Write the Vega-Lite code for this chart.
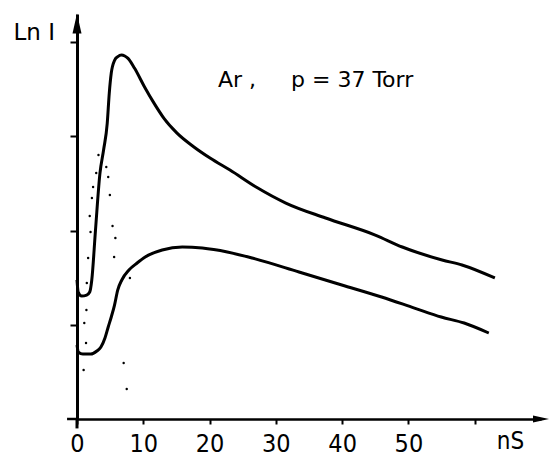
{
  "$schema": "https://vega.github.io/schema/vega-lite/v6.json",
  "width": 464,
  "height": 405,
  "autosize": {"type": "none"},
  "padding": {"left": 77, "top": 14, "right": 9, "bottom": 37},
  "background": "white",
  "config": {"view": {"stroke": null}},
  "datasets": {
    "curves": [
      {"curve": "upper", "t": 0.0, "v": 1.476},
      {"curve": "upper", "t": 0.18, "v": 1.348},
      {"curve": "upper", "t": 0.71, "v": 1.306},
      {"curve": "upper", "t": 1.46, "v": 1.316},
      {"curve": "upper", "t": 1.92, "v": 1.348},
      {"curve": "upper", "t": 2.23, "v": 1.476},
      {"curve": "upper", "t": 2.79, "v": 2.006},
      {"curve": "upper", "t": 3.46, "v": 2.608},
      {"curve": "upper", "t": 4.01, "v": 2.856},
      {"curve": "upper", "t": 4.56, "v": 3.139},
      {"curve": "upper", "t": 4.87, "v": 3.461},
      {"curve": "upper", "t": 5.17, "v": 3.673},
      {"curve": "upper", "t": 5.69, "v": 3.811},
      {"curve": "upper", "t": 6.16, "v": 3.848},
      {"curve": "upper", "t": 6.71, "v": 3.864},
      {"curve": "upper", "t": 7.21, "v": 3.854},
      {"curve": "upper", "t": 7.7, "v": 3.829},
      {"curve": "upper", "t": 8.69, "v": 3.723},
      {"curve": "upper", "t": 10.17, "v": 3.528},
      {"curve": "upper", "t": 11.64, "v": 3.351},
      {"curve": "upper", "t": 13.12, "v": 3.192},
      {"curve": "upper", "t": 15.09, "v": 3.035},
      {"curve": "upper", "t": 17.59, "v": 2.891},
      {"curve": "upper", "t": 20.13, "v": 2.768},
      {"curve": "upper", "t": 23.08, "v": 2.643},
      {"curve": "upper", "t": 27.02, "v": 2.463},
      {"curve": "upper", "t": 31.5, "v": 2.293},
      {"curve": "upper", "t": 37.5, "v": 2.134},
      {"curve": "upper", "t": 45.0, "v": 1.953},
      {"curve": "upper", "t": 49.07, "v": 1.826},
      {"curve": "upper", "t": 55.08, "v": 1.688},
      {"curve": "upper", "t": 58.08, "v": 1.635},
      {"curve": "upper", "t": 63.03, "v": 1.497},
      {"curve": "lower", "t": 0.0, "v": 0.786},
      {"curve": "lower", "t": 0.21, "v": 0.711},
      {"curve": "lower", "t": 0.88, "v": 0.69},
      {"curve": "lower", "t": 2.08, "v": 0.69},
      {"curve": "lower", "t": 3.0, "v": 0.722},
      {"curve": "lower", "t": 3.61, "v": 0.764},
      {"curve": "lower", "t": 4.22, "v": 0.86},
      {"curve": "lower", "t": 4.71, "v": 0.977},
      {"curve": "lower", "t": 5.17, "v": 1.083},
      {"curve": "lower", "t": 5.66, "v": 1.21},
      {"curve": "lower", "t": 6.14, "v": 1.369},
      {"curve": "lower", "t": 6.76, "v": 1.476},
      {"curve": "lower", "t": 7.84, "v": 1.582},
      {"curve": "lower", "t": 9.07, "v": 1.656},
      {"curve": "lower", "t": 10.29, "v": 1.72},
      {"curve": "lower", "t": 12.85, "v": 1.794},
      {"curve": "lower", "t": 15.88, "v": 1.826},
      {"curve": "lower", "t": 18.9, "v": 1.815},
      {"curve": "lower", "t": 22.67, "v": 1.773},
      {"curve": "lower", "t": 26.43, "v": 1.709},
      {"curve": "lower", "t": 33.49, "v": 1.561},
      {"curve": "lower", "t": 39.95, "v": 1.423},
      {"curve": "lower", "t": 45.95, "v": 1.295},
      {"curve": "lower", "t": 50.91, "v": 1.178},
      {"curve": "lower", "t": 54.95, "v": 1.083},
      {"curve": "lower", "t": 58.41, "v": 1.019},
      {"curve": "lower", "t": 62.12, "v": 0.913}
    ],
    "dots": [
      {"t": 3.24, "v": 2.803},
      {"t": 2.9, "v": 2.611},
      {"t": 2.43, "v": 2.463},
      {"t": 2.25, "v": 2.346},
      {"t": 1.92, "v": 2.155},
      {"t": 2.04, "v": 1.985},
      {"t": 1.68, "v": 1.709},
      {"t": 1.48, "v": 1.444},
      {"t": 1.42, "v": 1.157},
      {"t": 1.1, "v": 1.019},
      {"t": 1.36, "v": 0.807},
      {"t": 1.0, "v": 0.52},
      {"t": 4.42, "v": 2.675},
      {"t": 4.71, "v": 2.569},
      {"t": 4.96, "v": 2.378},
      {"t": 5.36, "v": 2.049},
      {"t": 5.79, "v": 1.921},
      {"t": 5.6, "v": 1.72},
      {"t": 7.98, "v": 1.497},
      {"t": 7.04, "v": 0.594},
      {"t": 7.5, "v": 0.318}
    ]
  },
  "layer": [
    {
      "data": {"name": "curves"},
      "mark": {"type": "line", "color": "black", "strokeWidth": 3, "interpolate": "monotone"},
      "encoding": {
        "x": {
          "field": "t", "type": "quantitative",
          "scale": {"domain": [0, 70], "nice": false, "zero": false},
          "axis": {
            "title": "nS", "titleX": 433, "titleY": 34, "titleAlign": "center", "titleBaseline": "bottom",
            "titleFont": "DejaVu Sans Condensed, DejaVu Sans", "titleFontSize": 24, "titleFontWeight": "normal", "titleColor": "black",
            "values": [0, 10, 20, 30, 40, 50, 60],
            "labelExpr": "datum.value >= 60 ? '' : datum.label",
            "labelFlush": false,
            "labelFont": "DejaVu Sans Condensed, DejaVu Sans", "labelFontSize": 25, "labelColor": "black", "labelPadding": 7,
            "tickSize": 5, "tickWidth": 2, "tickColor": "black",
            "domainColor": "black", "domainWidth": 2.5, "grid": false
          }
        },
        "y": {
          "field": "v", "type": "quantitative",
          "scale": {"domain": [0, 4.3], "nice": false, "zero": false},
          "axis": {
            "title": "Ln\u00a0I", "titleAngle": 0, "titleX": -64, "titleY": 25, "titleAlign": "left", "titleBaseline": "alphabetic",
            "titleFont": "DejaVu Sans", "titleFontSize": 23, "titleFontWeight": "normal", "titleColor": "black",
            "values": [1, 2, 3, 4], "labels": false,
            "tickSize": 7, "tickWidth": 2, "tickColor": "black",
            "domainColor": "black", "domainWidth": 3, "grid": false
          }
        },
        "detail": {"field": "curve", "type": "nominal"}
      }
    },
    {
      "data": {"name": "dots"},
      "mark": {"type": "point", "filled": true, "color": "black", "size": 6, "opacity": 1},
      "encoding": {
        "x": {"field": "t", "type": "quantitative"},
        "y": {"field": "v", "type": "quantitative"}
      }
    },
    {
      "data": {"values": [{"t": -1.5, "t2": 0, "v": 0}]},
      "mark": {"type": "rule", "color": "black", "strokeWidth": 2.5},
      "encoding": {
        "x": {"field": "t", "type": "quantitative"},
        "x2": {"field": "t2"},
        "y": {"field": "v", "type": "quantitative"}
      }
    },
    {
      "data": {"values": [{"t": 0, "v": -0.1, "v2": 0}]},
      "mark": {"type": "rule", "color": "black", "strokeWidth": 3},
      "encoding": {
        "x": {"field": "t", "type": "quantitative"},
        "y": {"field": "v", "type": "quantitative"},
        "y2": {"field": "v2"}
      }
    },
    {
      "data": {"values": [{"t": 0, "v": 4.2}]},
      "mark": {"type": "point", "filled": true, "color": "black", "opacity": 1, "size": 400, "shape": "M0,-1L0.45,1L-0.45,1Z"},
      "encoding": {
        "x": {"field": "t", "type": "quantitative"},
        "y": {"field": "v", "type": "quantitative"}
      }
    },
    {
      "data": {"values": [{"t": 70, "v": 0}]},
      "mark": {"type": "point", "filled": true, "color": "black", "opacity": 1, "size": 256, "shape": "M1,0L-1,-0.45L-1,0.45Z"},
      "encoding": {
        "x": {"field": "t", "type": "quantitative"},
        "y": {"field": "v", "type": "quantitative"}
      }
    },
    {
      "data": {"values": [{"t": 21.27, "v": 3.524, "label": "Ar ,\u00a0\u00a0\u00a0\u00a0\u00a0p = 37 Torr"}]},
      "mark": {"type": "text", "align": "left", "baseline": "alphabetic", "font": "DejaVu Sans", "fontSize": 22, "color": "black"},
      "encoding": {
        "x": {"field": "t", "type": "quantitative"},
        "y": {"field": "v", "type": "quantitative"},
        "text": {"field": "label", "type": "nominal"}
      }
    }
  ]
}
